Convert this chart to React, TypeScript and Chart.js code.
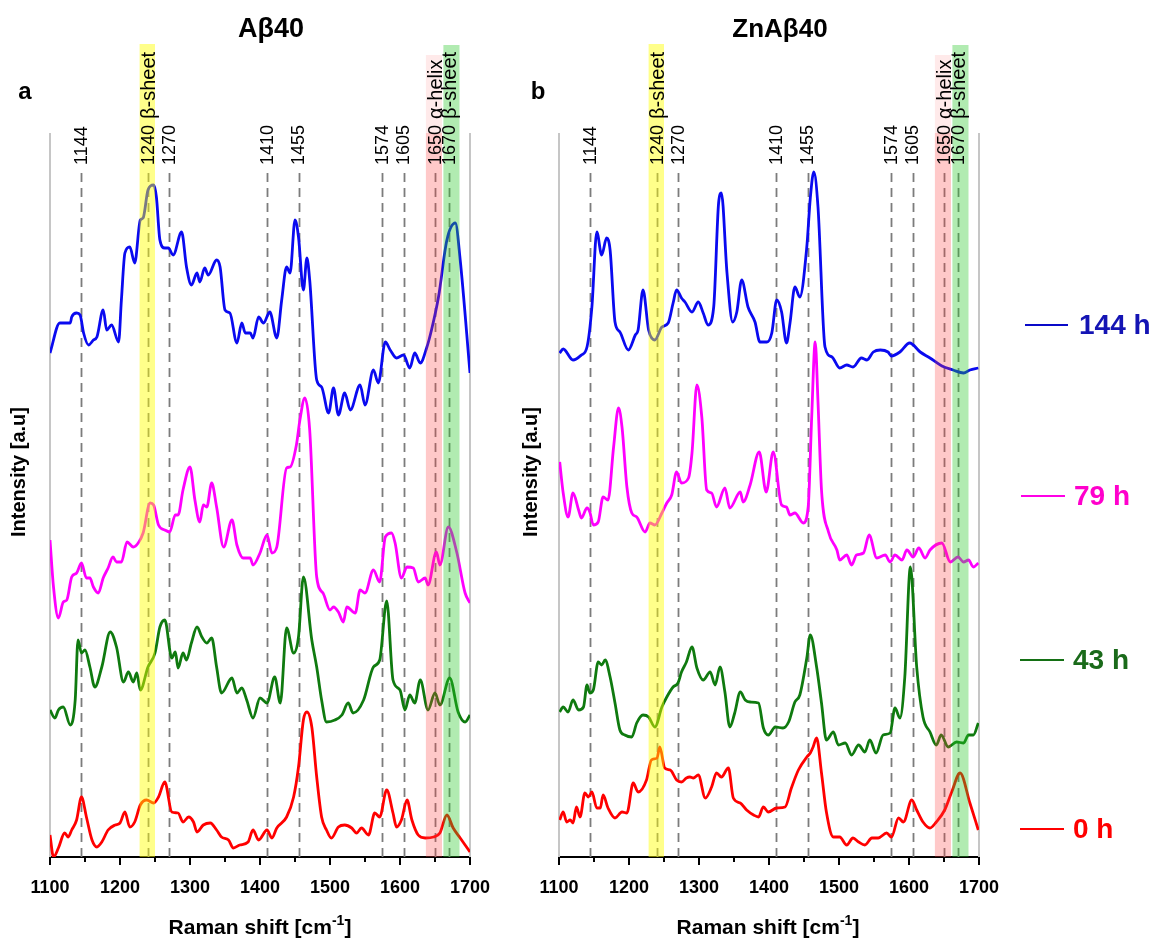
import React, { useEffect, useRef } from 'react';
import { Chart, registerables } from 'chart.js';

Chart.register(...registerables);

const FONT = 'Arial, "Liberation Sans", sans-serif';

// ---------- data ----------
const xTickValues = [1100, 1200, 1300, 1400, 1500, 1600, 1700];
const minorTickValues = [1150, 1250, 1350, 1450, 1550, 1650];
const peakPositions = [1144, 1240, 1270, 1410, 1455, 1574, 1605, 1650, 1670];
const peakNumbers = ['1144', '1240', '1270', '1410', '1455', '1574', '1605', '1650', '1670'];
const peakNotes = ['', 'β-sheet', '', '', '', '', '', 'α-helix', 'β-sheet'];
const bandBetaLow = [1228, 1250];
const bandAlpha = [1637, 1660];
const bandBetaHigh = [1662, 1685];

const seriesNames = ['144 h', '79 h', '43 h', '0 h'];
const panelTitles = ['Aβ40', 'ZnAβ40'];
const panelLetters = ['a', 'b'];

type P = [number, number];

const abeta144: P[] = [[1100,504],[1114,534],[1129,534],[1131,540],[1138,544],[1143,542],[1148,524],[1155,512],[1162,517],[1167,520],[1176,547],[1181,527],[1188,532],[1198,515],[1202,557],[1207,604],[1214,610],[1221,594],[1229,637],[1233,639],[1240,667],[1248,672],[1252,660],[1257,617],[1264,609],[1269,609],[1276,602],[1288,625],[1295,590],[1302,572],[1310,584],[1314,575],[1321,589],[1326,582],[1338,597],[1343,590],[1350,547],[1357,544],[1367,514],[1374,534],[1379,524],[1386,524],[1390,519],[1398,540],[1405,534],[1414,545],[1424,519],[1431,557],[1438,590],[1443,584],[1450,637],[1455,620],[1462,567],[1467,599],[1471,577],[1481,477],[1488,470],[1498,444],[1505,469],[1512,442],[1521,464],[1529,447],[1543,472],[1550,452],[1562,487],[1569,474],[1579,515],[1586,507],[1595,499],[1605,502],[1614,489],[1621,504],[1629,494],[1638,509],[1645,527],[1655,560],[1667,617],[1679,634],[1686,597],[1700,484]];

const abeta79: P[] = [[1100,317],[1105,270],[1112,239],[1119,255],[1124,257],[1131,280],[1138,284],[1145,294],[1152,279],[1157,279],[1162,270],[1169,264],[1176,279],[1183,289],[1190,300],[1195,295],[1202,295],[1210,315],[1219,310],[1226,314],[1233,324],[1243,354],[1248,352],[1255,332],[1264,327],[1271,325],[1279,342],[1283,342],[1290,367],[1300,390],[1307,357],[1314,335],[1319,352],[1324,350],[1331,374],[1338,350],[1348,310],[1360,337],[1367,312],[1376,299],[1386,299],[1390,292],[1400,304],[1410,322],[1417,304],[1424,310],[1438,389],[1443,390],[1452,412],[1457,437],[1464,459],[1471,427],[1481,280],[1490,264],[1500,247],[1505,250],[1512,245],[1519,235],[1524,250],[1536,244],[1543,267],[1550,264],[1562,287],[1571,275],[1579,320],[1588,324],[1593,314],[1602,279],[1610,290],[1619,289],[1626,275],[1636,279],[1640,272],[1652,305],[1657,292],[1669,330],[1681,305],[1693,264],[1700,254]];

const abeta43: P[] = [[1100,147],[1107,139],[1112,147],[1119,150],[1129,132],[1136,157],[1140,217],[1145,204],[1150,207],[1157,190],[1164,170],[1174,190],[1186,225],[1195,210],[1205,175],[1212,185],[1219,175],[1224,184],[1229,167],[1240,190],[1250,204],[1257,230],[1264,237],[1274,199],[1279,205],[1283,189],[1290,204],[1295,197],[1302,214],[1310,230],[1317,220],[1324,214],[1331,219],[1338,190],[1345,164],[1360,179],[1367,164],[1374,169],[1381,157],[1390,139],[1400,159],[1410,154],[1421,180],[1429,154],[1438,229],[1448,204],[1455,220],[1462,280],[1474,217],[1481,190],[1488,157],[1495,135],[1507,137],[1517,142],[1526,154],[1533,144],[1548,157],[1562,190],[1571,197],[1581,256],[1590,177],[1600,167],[1607,147],[1614,162],[1621,154],[1629,177],[1640,147],[1650,164],[1657,152],[1671,179],[1683,145],[1693,135],[1700,142]];

const abeta0: P[] = [[1100,22],[1105,0],[1112,9],[1121,24],[1126,20],[1131,27],[1138,37],[1145,60],[1152,40],[1160,17],[1167,10],[1174,15],[1183,27],[1193,32],[1200,34],[1207,45],[1214,30],[1221,35],[1229,52],[1238,57],[1248,54],[1255,60],[1264,75],[1274,45],[1283,44],[1290,35],[1298,40],[1305,35],[1310,25],[1319,32],[1329,34],[1338,27],[1345,20],[1355,17],[1362,9],[1371,12],[1383,15],[1390,27],[1398,17],[1410,27],[1417,19],[1424,29],[1438,40],[1448,60],[1455,90],[1462,137],[1467,145],[1474,130],[1481,80],[1488,40],[1495,27],[1502,19],[1512,30],[1521,32],[1531,29],[1538,24],[1545,29],[1555,22],[1564,44],[1571,40],[1581,67],[1590,44],[1595,30],[1602,37],[1610,57],[1617,37],[1626,22],[1636,19],[1648,20],[1657,24],[1667,42],[1676,29],[1686,19],[1700,5]];

const znabeta144: P[] = [[1101,504],[1106,508],[1120,497],[1132,502],[1140,510],[1147,550],[1154,625],[1161,602],[1168,619],[1173,607],[1180,535],[1187,525],[1199,507],[1209,522],[1213,527],[1220,567],[1228,527],[1237,517],[1247,530],[1256,534],[1263,554],[1268,567],[1275,559],[1280,555],[1290,545],[1299,555],[1306,544],[1313,532],[1321,550],[1328,654],[1332,664],[1340,584],[1348,535],[1354,545],[1361,577],[1370,550],[1380,535],[1387,515],[1397,515],[1404,524],[1411,557],[1418,545],[1425,514],[1430,534],[1437,570],[1444,560],[1454,610],[1459,659],[1464,685],[1470,650],[1480,510],[1490,500],[1501,489],[1511,492],[1520,490],[1532,499],[1540,497],[1549,505],[1559,507],[1570,505],[1575,501],[1587,505],[1601,514],[1616,505],[1630,499],[1647,491],[1663,487],[1678,484],[1687,487],[1699,489]];

const znabeta79: P[] = [[1101,395],[1106,364],[1113,340],[1120,364],[1128,347],[1132,339],[1140,349],[1144,345],[1149,332],[1156,335],[1163,360],[1170,357],[1178,410],[1185,449],[1190,430],[1197,370],[1204,344],[1211,340],[1223,325],[1230,334],[1237,332],[1247,344],[1254,354],[1261,362],[1268,385],[1275,374],[1285,379],[1290,404],[1297,472],[1304,440],[1311,367],[1318,364],[1325,350],[1337,369],[1344,349],[1359,365],[1363,355],[1373,372],[1386,405],[1396,365],[1406,405],[1418,352],[1425,350],[1430,342],[1437,344],[1449,334],[1456,350],[1461,440],[1466,515],[1470,455],[1475,367],[1485,325],[1497,307],[1501,297],[1511,302],[1518,292],[1525,302],[1535,304],[1543,322],[1554,299],[1566,302],[1573,295],[1580,302],[1590,297],[1597,307],[1606,300],[1614,309],[1623,299],[1630,307],[1647,314],[1659,295],[1670,300],[1678,295],[1685,297],[1692,290],[1699,294]];

const znabeta43: P[] = [[1101,145],[1106,150],[1113,145],[1120,157],[1128,147],[1135,150],[1140,172],[1144,164],[1149,167],[1156,195],[1161,192],[1166,197],[1173,180],[1180,154],[1187,127],[1194,122],[1204,120],[1211,134],[1220,142],[1228,140],[1237,130],[1247,150],[1254,160],[1263,170],[1270,174],[1275,185],[1282,195],[1290,210],[1297,189],[1306,177],[1316,185],[1323,172],[1330,190],[1337,165],[1344,130],[1351,144],[1359,165],[1366,157],[1373,155],[1385,154],[1392,129],[1399,122],[1409,130],[1420,129],[1428,135],[1437,155],[1444,162],[1454,199],[1459,222],[1468,190],[1475,154],[1482,117],[1492,125],[1499,112],[1509,114],[1518,102],[1528,112],[1537,105],[1544,117],[1553,104],[1563,122],[1573,124],[1580,149],[1587,139],[1594,180],[1602,290],[1611,190],[1620,140],[1630,125],[1639,112],[1646,122],[1656,110],[1668,115],[1678,114],[1685,122],[1692,122],[1699,134]];

const znabeta0: P[] = [[1101,37],[1106,45],[1111,35],[1116,37],[1120,34],[1125,50],[1130,40],[1137,64],[1142,60],[1147,65],[1154,49],[1159,49],[1163,62],[1170,49],[1180,39],[1190,45],[1197,44],[1206,74],[1213,65],[1225,77],[1232,97],[1240,99],[1244,110],[1251,89],[1259,87],[1268,77],[1275,75],[1282,79],[1287,80],[1292,79],[1299,82],[1309,59],[1318,70],[1325,84],[1332,80],[1342,89],[1349,59],[1359,54],[1368,47],[1378,42],[1385,40],[1392,50],[1399,45],[1411,49],[1423,50],[1432,69],[1442,87],[1454,100],[1459,104],[1463,110],[1468,119],[1475,84],[1482,45],[1492,20],[1501,20],[1511,12],[1520,19],[1528,15],[1537,12],[1547,19],[1556,19],[1568,24],[1575,20],[1585,39],[1592,35],[1604,57],[1611,47],[1620,35],[1630,29],[1639,35],[1651,47],[1661,65],[1673,84],[1687,54],[1699,27]];

const panelA = [abeta144, abeta79, abeta43, abeta0];
const panelB = [znabeta144, znabeta79, znabeta43, znabeta0];

// ---------- styles ----------
const lineColors = ['#0a0af0', '#ff00ff', '#0f7a0f', '#ff0000'];
const legendLineColors = ['#0a0ac8', '#ff00e6', '#147014', '#ff0000'];
const legendTextColors = ['#1414b4', '#ff00cc', '#1a6a1a', '#ff0000'];
const legendY = [325, 496, 660, 829];
const legendLineX = [[1025, 1068], [1021, 1065], [1020, 1064], [1020, 1064]];
const legendTextX = [1079, 1074, 1073, 1073];

const CANVAS_H = 940;
const PLOT_TOP = 133;
const AXIS_H = 83;

function decorPlugin() {
  return {
    id: 'decor',
    beforeDatasetsDraw(chart: any) {
      const { ctx, chartArea, scales } = chart;
      const x = scales.x;
      ctx.save();
      ctx.strokeStyle = '#c6c6c6';
      ctx.lineWidth = 2;
      [chartArea.left, chartArea.right].forEach((px: number) => {
        ctx.beginPath();
        ctx.moveTo(px, chartArea.top);
        ctx.lineTo(px, chartArea.bottom);
        ctx.stroke();
      });
      ctx.setLineDash([9, 6]);
      ctx.strokeStyle = '#7c7c7c';
      ctx.lineWidth = 1.8;
      peakPositions.forEach((p) => {
        const px = Math.round(x.getPixelForValue(p)) + 0.5;
        ctx.beginPath();
        ctx.moveTo(px, chartArea.top + 40);
        ctx.lineTo(px, chartArea.bottom);
        ctx.stroke();
      });
      ctx.restore();
    },
    afterDatasetsDraw(chart: any) {
      const { ctx, chartArea, scales } = chart;
      const x = scales.x;
      const band = (r: number[], y0: number, y1: number, color: string) => {
        const a = x.getPixelForValue(r[0]);
        const b = x.getPixelForValue(r[1]);
        ctx.fillStyle = color;
        ctx.fillRect(a, y0, b - a, y1 - y0);
      };
      ctx.save();
      band(bandBetaLow, 44, chartArea.bottom, 'rgba(255,255,0,0.46)');
      band(bandAlpha, 55, chartArea.top, 'rgba(255,80,80,0.12)');
      band(bandAlpha, chartArea.top, chartArea.bottom, 'rgba(255,60,60,0.28)');
      band(bandBetaHigh, 45, chartArea.bottom, 'rgba(40,200,40,0.36)');

      // minor ticks
      ctx.strokeStyle = '#000';
      ctx.lineWidth = 2;
      minorTickValues.forEach((v) => {
        const px = Math.round(x.getPixelForValue(v));
        ctx.beginPath();
        ctx.moveTo(px, chartArea.bottom);
        ctx.lineTo(px, chartArea.bottom + 5);
        ctx.stroke();
      });

      // rotated peak labels
      peakPositions.forEach((p, i) => {
        const px = x.getPixelForValue(p);
        ctx.save();
        ctx.translate(px + 1, chartArea.top + 32);
        ctx.rotate(-Math.PI / 2);
        ctx.textAlign = 'left';
        ctx.textBaseline = 'middle';
        ctx.fillStyle = '#000';
        ctx.font = `18px ${FONT}`;
        ctx.fillText(peakNumbers[i], 0, 0);
        if (peakNotes[i]) {
          const w = ctx.measureText(peakNumbers[i] + ' ').width;
          ctx.font = `20px ${FONT}`;
          ctx.fillText(peakNotes[i], w + 1, 0);
        }
        ctx.restore();
      });
      ctx.restore();
    },
  };
}

function makeChart(canvas: HTMLCanvasElement, series: P[][], padLeft: number, padRight: number) {
  return new Chart(canvas, {
    type: 'line',
    data: {
      datasets: series.map((s, i) => ({
        label: seriesNames[i],
        data: s.map(([xv, yv]) => ({ x: xv, y: yv })),
        borderColor: lineColors[i],
        backgroundColor: lineColors[i],
        borderWidth: 2.8,
        pointRadius: 0,
        fill: false,
        cubicInterpolationMode: 'monotone' as const,
      })),
    },
    options: {
      animation: false,
      responsive: false,
      devicePixelRatio: 1,
      layout: { padding: { left: padLeft, right: padRight, top: PLOT_TOP, bottom: 0 } },
      plugins: {
        legend: { display: false },
        title: { display: false },
        tooltip: { enabled: false },
      },
      scales: {
        x: {
          type: 'linear',
          min: 1100,
          max: 1700,
          afterBuildTicks: (s: any) => {
            s.ticks = xTickValues.map((v) => ({ value: v }));
          },
          afterFit: (s: any) => {
            s.height = AXIS_H;
          },
          ticks: {
            autoSkip: false,
            maxRotation: 0,
            padding: 12,
            color: '#000',
            font: { family: FONT, size: 18, weight: 'bold' },
            callback: (v: any) => String(v),
          },
          grid: {
            display: true,
            drawOnChartArea: false,
            drawTicks: true,
            tickLength: 8,
            tickColor: '#000',
            tickWidth: 2,
            color: '#000',
            lineWidth: 2,
          },
          border: { display: true, color: '#000', width: 2 },
        },
        y: { display: false, min: 0, max: CANVAS_H - AXIS_H - PLOT_TOP },
      },
    } as any,
    plugins: [decorPlugin()],
  });
}

const abs = (left: number, top: number, extra: React.CSSProperties = {}): React.CSSProperties => ({
  position: 'absolute',
  left,
  top,
  transform: 'translate(-50%, -50%)',
  whiteSpace: 'nowrap',
  lineHeight: 1,
  ...extra,
});

export default function App() {
  const refA = useRef<HTMLCanvasElement>(null);
  const refB = useRef<HTMLCanvasElement>(null);

  useEffect(() => {
    const ca = makeChart(refA.current!, panelA, 50, 50);
    const cb = makeChart(refB.current!, panelB, 54, 51);
    return () => {
      ca.destroy();
      cb.destroy();
    };
  }, []);

  const boldText = { fontFamily: FONT, fontWeight: 700, color: '#000' } as React.CSSProperties;

  return (
    <div style={{ position: 'absolute', left: 0, top: 0, width: 1157, height: 940, background: '#fff', overflow: 'hidden' }}>
      <canvas ref={refA} width={520} height={CANVAS_H} style={{ position: 'absolute', left: 0, top: 0 }} />
      <canvas ref={refB} width={525} height={CANVAS_H} style={{ position: 'absolute', left: 505, top: 0 }} />

      <div style={abs(271, 28, { ...boldText, fontSize: 27 })}>{panelTitles[0]}</div>
      <div style={abs(780, 28, { ...boldText, fontSize: 26 })}>{panelTitles[1]}</div>
      <div style={abs(25, 91, { ...boldText, fontSize: 24 })}>{panelLetters[0]}</div>
      <div style={abs(538, 91, { ...boldText, fontSize: 24 })}>{panelLetters[1]}</div>

      <div style={abs(18, 472, { ...boldText, fontSize: 20, transform: 'translate(-50%, -50%) rotate(-90deg)' })}>Intensity [a.u]</div>
      <div style={abs(530, 472, { ...boldText, fontSize: 20, transform: 'translate(-50%, -50%) rotate(-90deg)' })}>Intensity [a.u]</div>

      <div style={abs(260, 925, { ...boldText, fontSize: 21 })}>
        Raman shift [cm<sup style={{ fontSize: 14, verticalAlign: 9 }}>-1</sup>]
      </div>
      <div style={abs(768, 925, { ...boldText, fontSize: 21 })}>
        Raman shift [cm<sup style={{ fontSize: 14, verticalAlign: 9 }}>-1</sup>]
      </div>

      {seriesNames.map((name, i) => (
        <React.Fragment key={name}>
          <div
            style={{
              position: 'absolute',
              left: legendLineX[i][0],
              top: legendY[i] - 1,
              width: legendLineX[i][1] - legendLineX[i][0],
              height: 2,
              background: legendLineColors[i],
            }}
          />
          <div
            style={{
              position: 'absolute',
              left: legendTextX[i],
              top: legendY[i],
              transform: 'translateY(-50%)',
              whiteSpace: 'nowrap',
              lineHeight: 1,
              fontFamily: FONT,
              fontWeight: 700,
              fontSize: 28,
              color: legendTextColors[i],
            }}
          >
            {name}
          </div>
        </React.Fragment>
      ))}
    </div>
  );
}
